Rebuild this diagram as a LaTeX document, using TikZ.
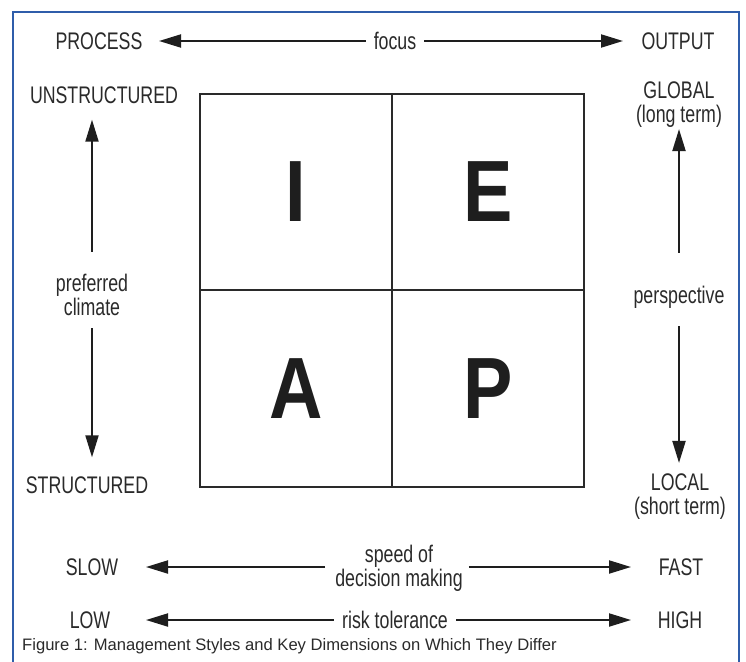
\documentclass[tikz,border=0pt]{standalone}
\usepackage{fontspec}
\setmainfont{Liberation Sans}
\newfontfamily\narrowfont[FakeStretch=0.74]{Liberation Sans}
\newfontfamily\bigfont[FakeStretch=0.85]{Liberation Sans}
\usetikzlibrary{arrows.meta}
\definecolor{ink}{HTML}{1E1E1E}
\definecolor{txt}{HTML}{2A2A2A}
\definecolor{gridc}{HTML}{2A2A2A}
\definecolor{framec}{HTML}{2F5DAA}
\begin{document}
\begin{tikzpicture}[x=1pt,y=-1pt,
  lbl/.style={font=\narrowfont\fontsize{24}{24}\selectfont, text=txt, inner sep=0pt, align=center},
  letter/.style={font=\bigfont\bfseries\fontsize{87}{87}\selectfont, text=ink},
  cell/.style={draw=gridc, line width=2pt, minimum width=192pt, inner sep=0pt},
  arr/.style={draw=ink, line width=2pt, -{Triangle[length=22pt,width=13pt]}},
  framebox/.style={draw=framec, line width=2pt},
  captionstyle/.style={font=\fontsize{16.6}{18}\selectfont, text=txt, inner sep=0pt, anchor=west}
]
\useasboundingbox (0,0) rectangle (746,661);
\clip (0,0) rectangle (746,661);
\fill[white] (0,0) rectangle (746,661);
\draw[framebox] (13,12) rectangle (739,700);

% grid of four cells
\node[cell, letter, minimum height=196pt] (I) at (296,192) {I};
\node[cell, letter, minimum height=196pt] (E) at (488,192) {E};
\node[cell, letter, minimum height=197pt] (A) at (296,388.5) {A};
\node[cell, letter, minimum height=197pt] (P) at (488,388.5) {P};

% tip positions
\coordinate (leftTop) at (159,0);
\coordinate (rightTop) at (623,0);
\coordinate (leftBot) at (146,0);
\coordinate (rightBot) at (631,0);
\coordinate (leftCol) at (92,0);
\coordinate (rightCol) at (679,0);

% top row
\node[lbl] (process) at (99,41) {PROCESS};
\node[lbl] (focus) at (395,41) {focus};
\node[lbl] (output) at (678,41) {OUTPUT};
\draw[arr] ([xshift=-8pt]focus.west) -- (leftTop |- focus);
\draw[arr] ([xshift=8pt]focus.east) -- (rightTop |- focus);

% left column
\node[lbl] (unstructured) at (104,95) {UNSTRUCTURED};
\node[lbl] (climate) at (92,295) {preferred\\climate};
\node[lbl] (structured) at (87,485) {STRUCTURED};
\draw[arr] ([yshift=22pt]climate.north) -- ([yshift=-16pt]climate.north |- unstructured.south);
\draw[arr] ([yshift=-12pt]climate.south) -- ([yshift=19pt]climate.south |- structured.north);

% right column
\node[lbl] (global) at (679,105) {GLOBAL\\(long term)};
\node[lbl] (perspective) at (679,297) {perspective};
\node[lbl] (local) at (680,497) {LOCAL\\(short term)};
\draw[arr] ([yshift=33pt]perspective.north) -- ([yshift=-1pt]perspective.north |- global.south);
\draw[arr] ([yshift=-18pt]perspective.south) -- ([yshift=11pt]perspective.south |- local.north);

% speed row
\node[lbl] (slow) at (92,567) {SLOW};
\node[lbl] (speed) at (399,568) {speed of\\decision making};
\node[lbl] (fast) at (681,567) {FAST};
\draw[arr] ([xshift=-10pt]speed.west |- slow) -- (leftBot |- slow);
\draw[arr] ([xshift=6pt]speed.east |- slow) -- (rightBot |- slow);

% risk row
\node[lbl] (low) at (90,620) {LOW};
\node[lbl] (risk) at (395,620) {risk tolerance};
\node[lbl] (high) at (680,620) {HIGH};
\draw[arr] ([xshift=-8pt]risk.west) -- (leftBot |- risk);
\draw[arr] ([xshift=8pt]risk.east) -- (rightBot |- risk);

% caption
\node[captionstyle] (caption) at (22,646) {Figure 1: Management Styles and Key Dimensions on Which They Differ};
\end{tikzpicture}
\end{document}
